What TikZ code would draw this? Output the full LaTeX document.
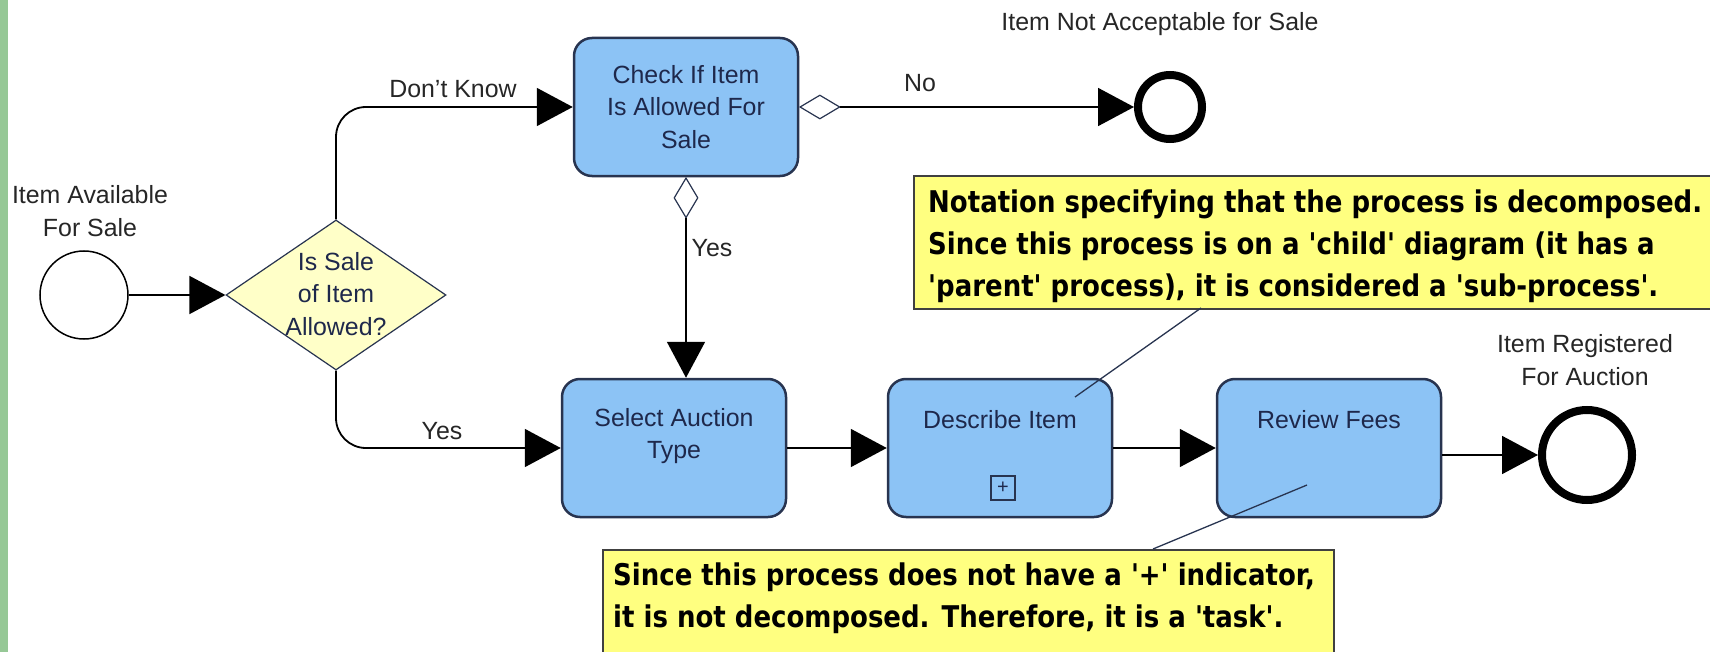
\documentclass[tikz,border=0pt]{standalone}
\usepackage{fontspec}
\setmainfont{Liberation Sans}
\newfontfamily\notefont[FakeStretch=0.87]{DejaVu Sans}
\usepackage{tikz}
\usetikzlibrary{shapes,arrows,arrows.meta,positioning}

\definecolor{taskblue}{RGB}{140,195,245}
\definecolor{taskline}{RGB}{40,52,80}
\definecolor{gateyellow}{RGB}{255,255,200}
\definecolor{noteyellow}{RGB}{255,255,128}
\definecolor{navytext}{RGB}{30,40,75}
\definecolor{sidegreen}{RGB}{150,200,150}

\begin{document}
\begin{tikzpicture}[x=1bp,y=-1bp]
			\tikzstyle{Task}	= [rectangle, rounded corners=18bp, draw=taskline, line width=2.5bp, fill=taskblue, minimum width=224bp, minimum height=138bp, inner sep=0pt, align=center, text=navytext, font=\fontsize{25}{33}\selectfont]
			\tikzstyle{TaskText}	= [inner sep=0pt, align=center, text=navytext, font=\fontsize{25}{33}\selectfont]
			\tikzstyle{Gate}	= [diamond, draw=taskline, line width=1.2bp, fill=gateyellow, minimum width=220bp, minimum height=150bp, inner sep=0pt]
			\tikzstyle{MarkH}	= [diamond, draw=taskline, line width=1.2bp, fill=white, minimum width=40bp, minimum height=24bp, inner sep=0pt]
			\tikzstyle{MarkV}	= [MarkH, minimum width=24bp, minimum height=40bp]
			\tikzstyle{Start}	= [circle, draw=black, line width=1.5bp, fill=white, minimum size=88bp, inner sep=0pt]
			\tikzstyle{End}		= [circle, draw=black, line width=8bp, fill=white, inner sep=0pt]
			\tikzstyle{Plus}	= [rectangle, draw=taskline, line width=1.5bp, minimum size=24bp, inner sep=0pt, text=navytext, font=\fontsize{20}{20}\selectfont]
			\tikzstyle{Lbl}		= [inner sep=0pt, align=center, text=black!85, font=\fontsize{25}{33}\selectfont]
			\tikzstyle{NoteBox}	= [rectangle, draw=black!75, line width=2bp, fill=noteyellow, anchor=north west, inner sep=0pt]
			\tikzstyle{NoteText}	= [inner sep=0pt, anchor=west, align=left, font=\notefont\bfseries\fontsize{30}{42}\selectfont]
			\tikzstyle{Flow}	= [draw=black, line width=1.8bp, -{Triangle[length=36bp,width=38bp]}]
			\tikzstyle{Pin}		= [draw=taskline, line width=1.3bp]
			
			\useasboundingbox (0,0) rectangle (1710,652);
			\fill [sidegreen] (0,0) rectangle (8,652);
			
			% events and gateway
			\node (start) at (84,295) [Start] {};
			\node (gate) at (336,295) [Gate] {};
			\node (endNo) at (1170,107) [End, minimum size=64bp] {};
			\node (endOk) at (1587,455) [End, minimum size=90bp] {};
			
			% tasks
			\node (chk) at (686,107) [Task] {Check If Item\\Is Allowed For\\Sale};
			\node (sel) at (674,448) [Task] {};
			\node (desc) at (1000,448) [Task] {};
			\node (rev) at (1329,448) [Task] {};
			\node (mNo) at (chk.east) [MarkH, anchor=west] {};
			\node (mYes) at (chk.south) [MarkV, anchor=north] {};
			
			% texts
			\node (gateTxt) at (336,294) [TaskText] {Is Sale\\of Item\\Allowed?};
			\node (selTxt) at (674,436) [TaskText] {Select Auction\\Type};
			\node (descTxt) at (1000,420) [TaskText] {Describe Item};
			\node (revTxt) at (1329,420) [TaskText] {Review Fees};
			\node (descPlus) at (1003,488) [Plus] {+};
			\node (lblStart) at (90,211) [Lbl] {Item Available\\For Sale};
			\node (lblNotOk) at (1160,24) [Lbl] {Item Not Acceptable for Sale};
			\node (lblOk) at (1585,360) [Lbl] {Item Registered\\For Auction};
			\node (lblDontKnow) at (453,89) [Lbl] {Don't Know};
			\node (lblNo) at (920,83) [Lbl] {No};
			\node (lblYesChk) at (712,248) [Lbl] {Yes};
			\node (lblYesGate) at (442,431) [Lbl] {Yes};
			
			% sequence flow
			\draw [Flow] (start) -- (gate);
			\draw [Flow, rounded corners=30bp] (gate.north) |- (chk.west);
			\draw [Flow, rounded corners=30bp] (gate.south) |- (sel.west);
			\draw [Flow] (mNo) -- (endNo);
			\draw [Flow] (mYes.south) -- (mYes.south |- sel.north);
			\draw [Flow] (sel) -- (desc);
			\draw [Flow] (desc) -- (rev);
			\draw [Flow] (rev.east |- endOk) -- (endOk);
			
			% annotations
			\node (noteSub) at (913,175) [NoteBox, minimum width=802bp, minimum height=133bp] {};
			\node (noteSubTxt) at (928,246) [NoteText] {Notation specifying that the process is decomposed.\\Since this process is on a 'child' diagram (it has a\\'parent' process), it is considered a 'sub-process'.};
			\node (noteTask) at (602,549) [NoteBox, minimum width=731bp, minimum height=120bp] {};
			\node (noteTaskTxt) at (613,598) [NoteText] {Since this process does not have a '+' indicator,\\it is not decomposed. Therefore, it is a 'task'.};
			\coordinate (subPin) at (1201,308);
			\coordinate (descPin) at (1075,397);
			\coordinate (taskPin) at (1153,549);
			\coordinate (revPin) at (1307,485);
			\draw [Pin] (subPin) -- (descPin);
			\draw [Pin] (taskPin) -- (revPin);
\end{tikzpicture}
\end{document}
